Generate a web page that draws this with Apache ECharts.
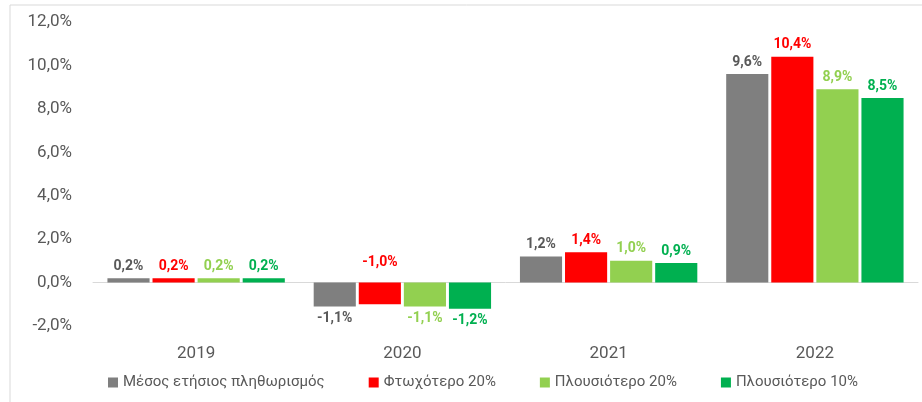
<!DOCTYPE html>
<html lang="el">
<head>
<meta charset="utf-8">
<title>Πληθωρισμός</title>
<script src="https://cdn.jsdelivr.net/npm/echarts@6/dist/echarts.min.js"></script>
<style>
  html, body { margin: 0; padding: 0; background: #fff; }
  #main { width: 922px; height: 402px; }
</style>
</head>
<body>
<div id="main"></div>
<script>
var years = ['2019', '2020', '2021', '2022'];
var seriesNames = ['Μέσος ετήσιος πληθωρισμός', 'Φτωχότερο 20%', 'Πλουσιότερο 20%', 'Πλουσιότερο 10%'];
var meanInfl = [0.2, -1.1, 1.2, 9.6];
var poorest20 = [0.2, -1.0, 1.4, 10.4];
var richest20 = [0.2, -1.1, 1.0, 8.9];
var richest10 = [0.2, -1.2, 0.9, 8.5];

var barColors = ['#7f7f7f', '#ff0000', '#92d050', '#00b050'];
var labelColors = ['#595959', '#ff0000', '#92d050', '#00b050'];

function pct(v) {
    return v.toFixed(1).replace('.', ',') + '%';
}

function makeSeries(name, data, idx) {
    return {
        name: name,
        type: 'bar',
        barGap: '7%',
        barCategoryGap: '14%',
        itemStyle: { color: barColors[idx] },
        data: data.map(function (v) {
            var item = { value: v, label: { position: v >= 0 ? 'top' : 'bottom' } };
            // the red negative label sits above the zero line in the original
            if (v < 0 && idx === 1) {
                item.label.position = 'top';
                item.label.offset = [0, -8];
            }
            return item;
        }),
        label: {
            show: true,
            color: labelColors[idx],
            fontFamily: 'Roboto',
            fontWeight: 'bold',
            fontSize: 14,
            distance: 5,
            formatter: function (p) { return pct(p.value); }
        }
    };
}

var chart = echarts.init(document.getElementById('main'), null, { renderer: 'canvas' });
chart.setOption({
    animation: false,
    graphic: [{
        type: 'rect',
        shape: { x: 10, y: 5, width: 930, height: 420 },
        style: { fill: 'none', stroke: '#d9d9d9', lineWidth: 1 },
        silent: true
    }],
    grid: { left: 93, right: 4, top: 22, bottom: 76, containLabel: false },
    legend: {
        bottom: 7,
        left: 103,
        itemWidth: 10,
        itemHeight: 10,
        itemGap: 44,
        icon: 'rect',
        textStyle: { color: '#595959', fontFamily: 'Roboto', fontSize: 15 },
        data: seriesNames
    },
    xAxis: {
        type: 'category',
        data: years,
        axisLine: { lineStyle: { color: '#d9d9d9' } },
        axisTick: { show: false },
        axisLabel: {
            color: '#595959', fontFamily: 'Roboto', fontSize: 17,
            margin: 19,
            interval: 0
        }
    },
    yAxis: {
        type: 'value',
        min: -2,
        max: 12,
        interval: 2,
        splitLine: { show: false },
        axisLine: { show: false },
        axisTick: { show: false },
        axisLabel: {
            color: '#595959', fontFamily: 'Roboto', fontSize: 17,
            margin: 21,
            formatter: function (v) { return pct(v); }
        }
    },
    series: [
        makeSeries(seriesNames[0], meanInfl, 0),
        makeSeries(seriesNames[1], poorest20, 1),
        makeSeries(seriesNames[2], richest20, 2),
        makeSeries(seriesNames[3], richest10, 3)
    ]
});
</script>
</body>
</html>
